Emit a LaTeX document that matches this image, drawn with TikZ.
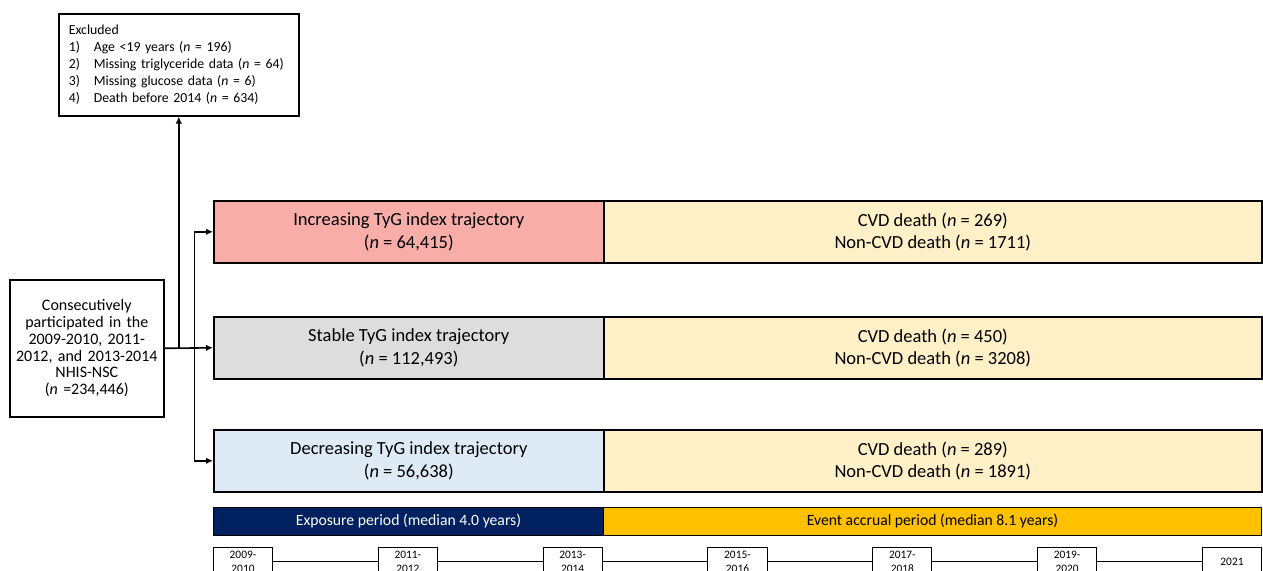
\documentclass[tikz,border=0pt]{standalone}
\usepackage{fontspec}
\setmainfont{Carlito}
\usetikzlibrary{arrows.meta}

\definecolor{incfill}{RGB}{248,173,169}
\definecolor{stabfill}{RGB}{221,221,221}
\definecolor{decfill}{RGB}{222,235,247}
\definecolor{evtfill}{RGB}{255,240,200}
\definecolor{expofill}{RGB}{0,32,96}
\definecolor{accrfill}{RGB}{255,192,0}

\begin{document}
\begin{tikzpicture}[x=1pt, y=-1pt, >={Latex[length=7pt,width=6.5pt]},
  box/.style={draw, line width=1.6pt, inner sep=0pt, anchor=north west, align=center},
  grp/.style={box, minimum width=390pt, minimum height=62pt, font=\fontsize{18.5}{22.5}\selectfont},
  evt/.style={box, fill=evtfill, minimum width=658pt, minimum height=62pt, font=\fontsize{18.5}{22.5}\selectfont},
  bar/.style={box, line width=1pt, minimum height=28pt, font=\fontsize{15.7}{18}\selectfont},
  yr/.style={draw, line width=1pt, fill=white, inner sep=0pt, minimum width=59pt, minimum height=28pt,
    anchor=north west, align=center, font=\fontsize{11.4}{14}\selectfont},
  conn/.style={line width=1.6pt}]
  % page: 1263 x 570 px, 1 px = 1 pt
  \useasboundingbox (0,0) rectangle (1263,570);
  \clip (0,0) rectangle (1263,570);

  % Exclusions and source cohort
  \node[box, text width=220pt, inner xsep=10pt, minimum height=102pt, align=left,
    font=\fontsize{13.8}{17}\selectfont] (excl) at (58,13)
    {Excluded\\
     \makebox[25pt][l]{1)}Age <19 years (\textit{n} = 196)\\
     \makebox[25pt][l]{2)}Missing triglyceride data (\textit{n} = 64)\\
     \makebox[25pt][l]{3)}Missing glucose data (\textit{n} = 6)\\
     \makebox[25pt][l]{4)}Death before 2014 (\textit{n} = 634)};
  \node[box, minimum width=154pt, minimum height=137pt, text width=152pt,
    font=\fontsize{16}{16.7}\selectfont] (cohort) at (9,279)
    {Consecutively\\participated in the\\2009-2010, 2011-\\2012, and 2013-2014\\NHIS-NSC\\(\textit{n} =234,446)};

  % TyG index trajectory groups
  \node[grp, fill=incfill] (inc) at (213,200) {Increasing TyG index trajectory\\(\textit{n} = 64,415)};
  \node[grp, fill=stabfill] (stab) at (213,316) {Stable TyG index trajectory\\(\textit{n} = 112,493)};
  \node[grp, fill=decfill] (dec) at (213,429) {Decreasing TyG index trajectory\\(\textit{n} = 56,638)};

  % Outcomes
  \node[evt] (incevt) at (603,200) {CVD death (\textit{n} = 269)\\Non-CVD death (\textit{n} = 1711)};
  \node[evt] (stabevt) at (603,316) {CVD death (\textit{n} = 450)\\Non-CVD death (\textit{n} = 3208)};
  \node[evt] (decevt) at (603,429) {CVD death (\textit{n} = 289)\\Non-CVD death (\textit{n} = 1891)};

  % Connectors
  \coordinate (br) at ([xshift=30pt]cohort.east);
  \draw[conn, ->] (cohort.east) -- (stab.west);
  \draw[conn, ->] (br) |- (inc.west);
  \draw[conn, ->] (br) |- (dec.west);
  \draw[conn, ->] (cohort.east -| excl.south) -- (excl.south);

  % Study periods
  \node[bar, fill=expofill, text=white, minimum width=390pt] (expo) at (213,507) {Exposure period (median 4.0 years)};
  \node[bar, fill=accrfill, minimum width=658pt] (accr) at (603,507) {Event accrual period (median 8.1 years)};

  % Timeline
  \foreach \lbl [count=\i from 0] in {{2009-\\2010},{2011-\\2012},{2013-\\2014},{2015-\\2016},{2017-\\2018},{2019-\\2020},{2021}} {
    \node[yr] (y\i) at ({213+164.83*\i},547) {\lbl};
  }
  \foreach \i in {0,...,5} {
    \pgfmathtruncatemacro{\j}{\i+1}
    \draw[line width=1pt] (y\i.east) -- (y\j.west);
  }
\end{tikzpicture}
\end{document}
